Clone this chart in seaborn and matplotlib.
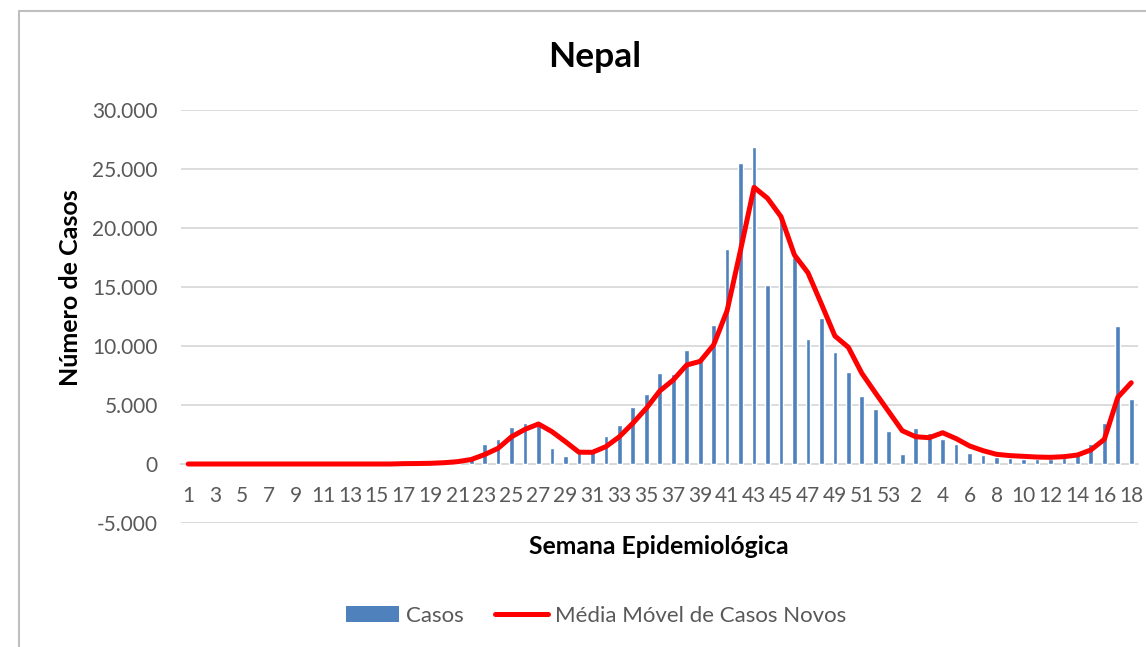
import matplotlib
matplotlib.use("Agg")
import matplotlib.pyplot as plt
from matplotlib.patches import Patch
from matplotlib.lines import Line2D
import seaborn as sns
import pandas as pd

# ---- data ----
semanas = list(range(1, 54)) + list(range(1, 19))
casos = [0, 0, 0, 0, 0, 0, 0, 0, 0, 0, 0, 0, 0, 5, 10, 20, 40, 60, 100, 150, 300, 550,
         1700, 2090, 3160, 3450, 3300, 1350, 700, 1000, 1250, 2370, 3280, 4860, 5930,
         7710, 7630, 9660, 8700, 11780, 18200, 25480, 26840, 15200, 20680, 17570, 10560,
         12350, 9460, 7800, 5760, 4660, 2820,
         880, 3080, 2600, 2090, 1720, 930, 790, 620, 500, 450, 400, 420, 550, 780, 1700,
         3450, 11700, 5480]
media_movel = [0, 0, 0, 0, 0, 0, 0, 0, 0, 0, 0, 0, 0, 0, 0, 0, 30, 40, 60, 110, 200, 380,
               800, 1330, 2310, 2940, 3390, 2740, 1890, 1000, 990, 1470, 2310, 3450, 4720,
               6190, 7120, 8390, 8700, 10090, 13000, 18140, 23450, 22520, 20960, 17710, 16210,
               13560, 10850, 9890, 7690, 6040, 4430,
               2820, 2310, 2230, 2650, 2150, 1530, 1130, 820, 710, 650, 590, 565, 620, 760, 1190,
               2090, 5650, 6890]
y_ticks = list(range(-5000, 30001, 5000))

df = pd.DataFrame({"pos": list(range(len(semanas))), "casos": casos, "media": media_movel})

# ---- style ----
sns.set_theme(style="white")
plt.rcParams["font.family"] = ["Lato", "DejaVu Sans"]

W, H = 1146, 647
fig = plt.figure(figsize=(W / 100, H / 100), dpi=100)
ax = fig.add_axes([181.5 / W, 1 - 523 / H, (1138 - 181.5) / W, (523 - 110) / H])

sns.barplot(data=df, x="pos", y="casos", color="#4F81BD", saturation=1, width=0.35,
            errorbar=None, ax=ax, zorder=2)
sns.lineplot(data=df, x="pos", y="media", color="#FF0000", linewidth=3.6, ax=ax,
             solid_capstyle="round", solid_joinstyle="round", zorder=3)

ax.set_xlim(-0.5, len(semanas) - 0.5)
ax.set_ylim(-5000, 30000)
ax.set_yticks(y_ticks)
ax.set_yticklabels([f"{v:,}".replace(",", ".") for v in y_ticks])
idx = list(range(0, len(semanas), 2))
ax.set_xticks(idx)
ax.set_xticklabels([str(semanas[i]) for i in idx])

ax.grid(axis="y", color="#D9D9D9", linewidth=1.3, zorder=0)
ax.set_axisbelow(True)
for s in ["top", "right", "left"]:
    ax.spines[s].set_visible(False)
ax.spines["bottom"].set_position(("data", 0))
ax.spines["bottom"].set_color("#D9D9D9")
ax.spines["bottom"].set_linewidth(1.3)
ax.spines["bottom"].set_zorder(1)
ax.tick_params(axis="y", length=0, pad=17, labelsize=15, labelcolor="#595959")
ax.tick_params(axis="x", length=0, pad=16, labelsize=15, labelcolor="#595959")
ax.set_xlabel("")
ax.set_ylabel("")

fig.text(595 / W, 1 - 57 / H, "Nepal", ha="center", va="center", fontsize=25.5,
         fontweight="bold", color="black")
fig.text(659 / W, 1 - 547 / H, "Semana Epidemiológica", ha="center", va="center",
         fontsize=17.8, fontweight="bold", color="black")
fig.text(70 / W, 1 - 288 / H, "Número de Casos", ha="center", va="center", rotation=90,
         fontsize=18, fontweight="bold", color="black")

handles = [Patch(facecolor="#4F81BD", edgecolor="none"),
           Line2D([0], [0], color="#FF0000", linewidth=3.6, solid_capstyle="round")]
leg = fig.legend(handles, ["Casos", "Média Móvel de Casos Novos"], loc="center",
                 bbox_to_anchor=(596 / W, 1 - 616 / H), ncol=2, frameon=False,
                 fontsize=16, handlelength=2.4, handleheight=0.7, handletextpad=0.3,
                 columnspacing=1.4, labelcolor="#595959")

# outer chart frame (left and top edges visible)
fig.add_artist(Line2D([18.5 / W, 18.5 / W], [0, 1 - 10.5 / H], transform=fig.transFigure,
                      color="#BFBFBF", linewidth=1.5))
fig.add_artist(Line2D([18.5 / W, 1], [1 - 10.5 / H, 1 - 10.5 / H], transform=fig.transFigure,
                      color="#BFBFBF", linewidth=1.5))

fig.savefig("out.png", dpi=100, facecolor="white")
